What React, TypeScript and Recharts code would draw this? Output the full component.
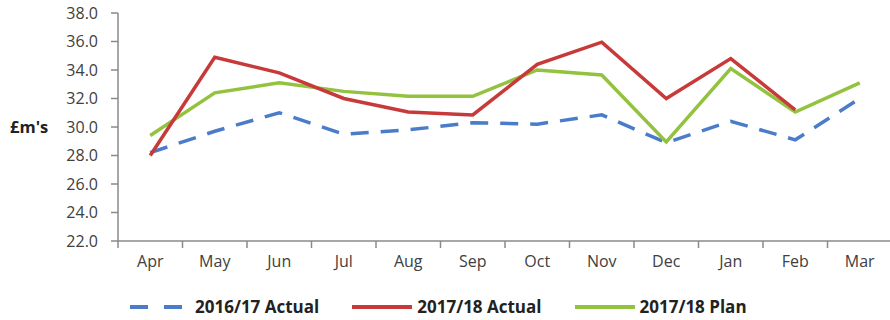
import React from "react";
import { LineChart, Line, XAxis, YAxis, Label } from "recharts";

const months = ["Apr", "May", "Jun", "Jul", "Aug", "Sep", "Oct", "Nov", "Dec", "Jan", "Feb", "Mar"];
const actual1617 = [28.2, 29.7, 31.0, 29.5, 29.8, 30.3, 30.2, 30.85, 28.9, 30.4, 29.1, 32.0];
const actual1718: (number | null)[] = [28.0, 34.9, 33.8, 32.0, 31.05, 30.85, 34.4, 35.95, 32.0, 34.8, 31.2, null];
const plan1718 = [29.4, 32.4, 33.1, 32.5, 32.15, 32.15, 34.0, 33.65, 28.95, 34.1, 31.05, 33.1];
const yTicks = [22, 24, 26, 28, 30, 32, 34, 36, 38];
const seriesNames = ["2016/17 Actual", "2017/18 Actual", "2017/18 Plan"];

const data = months.map((m, i) => ({
  month: m,
  a1617: actual1617[i],
  a1718: actual1718[i],
  p1718: plan1718[i],
}));

const CHART_W = 892;
const CHART_H = 320;
const M_LEFT = 0;
const Y_W = 118;
const M_RIGHT = 0;
const HALF_BAND = (CHART_W - M_LEFT - Y_W - M_RIGHT) / months.length / 2;

const FONT = "'Open Sans', 'Noto Sans', sans-serif";
const AXIS_COLOR = "#8a8a8a";
const BLUE = "#4a7cc9";
const RED = "#c83a3a";
const GREEN = "#93c23f";

const XTick = (props: any) => {
  const { x, y, payload } = props;
  return (
    <g>
      <line x1={x - HALF_BAND} x2={x - HALF_BAND} y1={y} y2={y + 7} stroke={AXIS_COLOR} strokeWidth={1.5} />
      <text x={x} y={y + 26} textAnchor="middle" fill="#404040" fontSize={16} fontFamily={FONT}>
        {payload.value}
      </text>
    </g>
  );
};

const legendItems = [
  { name: seriesNames[0], color: BLUE, dash: true },
  { name: seriesNames[1], color: RED, dash: false },
  { name: seriesNames[2], color: GREEN, dash: false },
];

export default function App() {
  return (
    <div style={{ position: "absolute", left: 0, top: 0, width: 890, height: 320, overflow: "hidden", background: "#fff" }}>
      <LineChart width={CHART_W} height={CHART_H} data={data} margin={{ top: 13, right: M_RIGHT, left: M_LEFT, bottom: 0 }}>
        <XAxis
          dataKey="month"
          height={79}
          tick={<XTick />}
          tickLine={false}
          tickSize={0}
          tickMargin={0}
          padding={{ left: HALF_BAND, right: HALF_BAND }}
          axisLine={{ stroke: AXIS_COLOR, strokeWidth: 1.5 }}
          interval={0}
        />
        <YAxis
          width={Y_W}
          domain={[22, 38]}
          ticks={yTicks}
          tickFormatter={(v: number) => v.toFixed(1)}
          axisLine={{ stroke: AXIS_COLOR, strokeWidth: 1.5 }}
          tickLine={{ stroke: AXIS_COLOR, strokeWidth: 1.5 }}
          tickSize={7}
          tickMargin={13}
          tick={{ fill: "#404040", fontSize: 16, fontFamily: FONT }}
          interval={0}
        >
          <Label
            value="£m's"
            position="insideLeft"
            offset={10}
            style={{ fontWeight: 700, fontSize: 16.5, fontFamily: FONT, fill: "#222" }}
          />
        </YAxis>
        <Line
          dataKey="a1617"
          name={seriesNames[0]}
          stroke={BLUE}
          strokeWidth={3.5}
          strokeDasharray="18 12"
          dot={false}
          activeDot={false}
          isAnimationActive={false}
        />
        <Line
          dataKey="p1718"
          name={seriesNames[2]}
          stroke={GREEN}
          strokeWidth={3.5}
          dot={false}
          activeDot={false}
          isAnimationActive={false}
        />
        <Line
          dataKey="a1718"
          name={seriesNames[1]}
          stroke={RED}
          strokeWidth={3.5}
          dot={false}
          activeDot={false}
          isAnimationActive={false}
          connectNulls={false}
        />
      </LineChart>
      <div
        style={{
          position: "absolute",
          left: 130,
          top: 295,
          display: "flex",
          alignItems: "center",
          fontFamily: FONT,
          fontWeight: 700,
          fontSize: 17,
          color: "#222",
          whiteSpace: "nowrap",
        }}
      >
        {legendItems.map((it, i) => (
          <div key={it.name} style={{ display: "flex", alignItems: "center", marginRight: i < 2 ? 33 : 0 }}>
            <svg width={60} height={8} style={{ marginRight: 5 }}>
              <line
                x1={0}
                x2={60}
                y1={4}
                y2={4}
                stroke={it.color}
                strokeWidth={4}
                strokeDasharray={it.dash ? "18 16" : undefined}
              />
            </svg>
            <span>{it.name}</span>
          </div>
        ))}
      </div>
    </div>
  );
}
